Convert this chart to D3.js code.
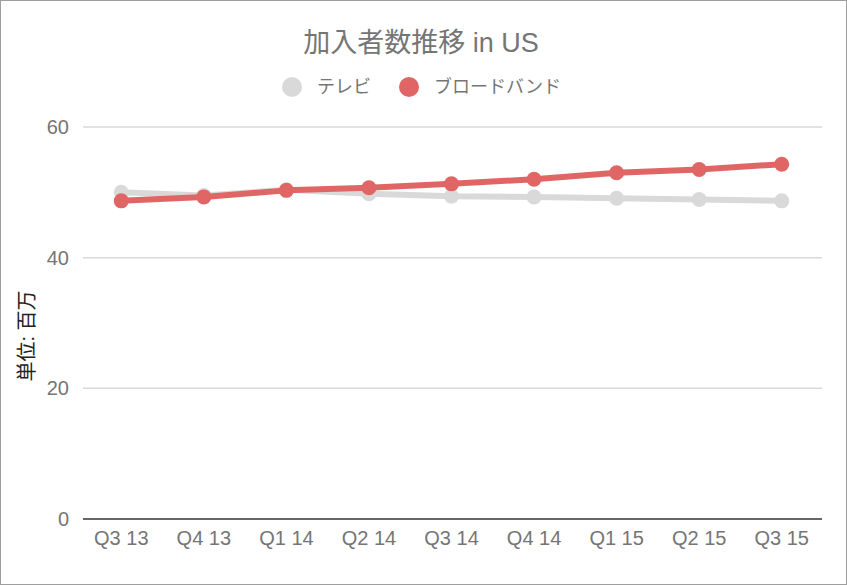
<!DOCTYPE html>
<html>
<head>
<meta charset="utf-8">
<style>
  body { margin: 0; background: #fff; font-family: "Liberation Sans", Arial, "Noto Sans CJK JP", sans-serif; }
  #frame { position: absolute; left: 0; top: 0; width: 845px; height: 583px; border: 1px solid #9e9e9e; }
  svg { display: block; }
</style>
</head>
<body>
<div id="frame"></div>
<svg id="chart" width="847" height="585"></svg>
<script src="https://d3js.org/d3.v7.min.js"></script>
<script>
const quarters = ['Q3 13', 'Q4 13', 'Q1 14', 'Q2 14', 'Q3 14', 'Q4 14', 'Q1 15', 'Q2 15', 'Q3 15'];
const tvValues = [50.0, 49.5, 50.4, 49.8, 49.4, 49.3, 49.1, 48.9, 48.7];
const broadbandValues = [48.7, 49.3, 50.3, 50.7, 51.3, 52.0, 53.0, 53.5, 54.3];
const yTicks = [0, 20, 40, 60];
const seriesNames = ['テレビ', 'ブロードバンド'];
const seriesColors = ['#d9d9d9', '#e06666'];

const svg = d3.select('#chart');
const cjk = '"Liberation Sans", Arial, "Noto Sans CJK JP", sans-serif';

const x = d3.scaleBand().domain(quarters).range([80, 823]);
const y = d3.scaleLinear().domain([0, 60]).range([519, 127]);

// title
svg.append('text')
  .attr('x', 421).attr('y', 52)
  .attr('text-anchor', 'middle')
  .attr('font-size', 27)
  .attr('font-family', cjk)
  .attr('fill', '#757575')
  .text('加入者数推移 in US');

// legend
const legendX = [292, 409];
seriesNames.forEach((name, i) => {
  svg.append('circle')
    .attr('cx', legendX[i]).attr('cy', 87).attr('r', 10)
    .attr('fill', seriesColors[i]);
  svg.append('text')
    .attr('x', legendX[i] + 25).attr('y', 93)
    .attr('font-size', 18)
    .attr('font-family', cjk)
    .attr('fill', '#757575')
    .text(name);
});

// gridlines
svg.append('g')
  .selectAll('line')
  .data(yTicks.filter(d => d > 0))
  .enter()
  .append('line')
  .attr('x1', 83).attr('x2', 822)
  .attr('y1', d => y(d)).attr('y2', d => y(d))
  .attr('stroke', '#d9d9d9').attr('stroke-width', 1.5);

// y axis
const yAxis = svg.append('g')
  .attr('transform', 'translate(69,0)')
  .call(d3.axisLeft(y).tickValues(yTicks).tickSize(0).tickPadding(0));
yAxis.select('.domain').remove();
yAxis.selectAll('text')
  .attr('font-size', 20)
  .attr('font-family', cjk)
  .attr('fill', '#757575');

// baseline
svg.append('line')
  .attr('x1', 83).attr('x2', 822)
  .attr('y1', y(0)).attr('y2', y(0))
  .attr('stroke', '#333').attr('stroke-width', 1.5);

// x axis
const xAxis = svg.append('g')
  .attr('transform', `translate(0,${y(0)})`)
  .call(d3.axisBottom(x).tickSize(0).tickPadding(12));
xAxis.select('.domain').remove();
xAxis.selectAll('text')
  .attr('font-size', 20)
  .attr('font-family', cjk)
  .attr('fill', '#757575');

// y axis title
svg.append('text')
  .attr('transform', 'translate(34,336) rotate(-90)')
  .attr('text-anchor', 'middle')
  .attr('font-size', 20)
  .attr('font-family', cjk)
  .attr('fill', '#222')
  .text('単位: 百万');

// lines
const line = d3.line()
  .x((d, i) => x(quarters[i]) + x.bandwidth() / 2)
  .y(d => y(d));

[tvValues, broadbandValues].forEach((vals, i) => {
  const g = svg.append('g');
  g.append('path')
    .datum(vals)
    .attr('d', line)
    .attr('fill', 'none')
    .attr('stroke', seriesColors[i])
    .attr('stroke-width', 6)
    .attr('stroke-linejoin', 'round');
  g.selectAll('circle')
    .data(vals)
    .enter()
    .append('circle')
    .attr('cx', (d, j) => x(quarters[j]) + x.bandwidth() / 2)
    .attr('cy', d => y(d))
    .attr('r', 7.5)
    .attr('fill', seriesColors[i]);
});
</script>
</body>
</html>
